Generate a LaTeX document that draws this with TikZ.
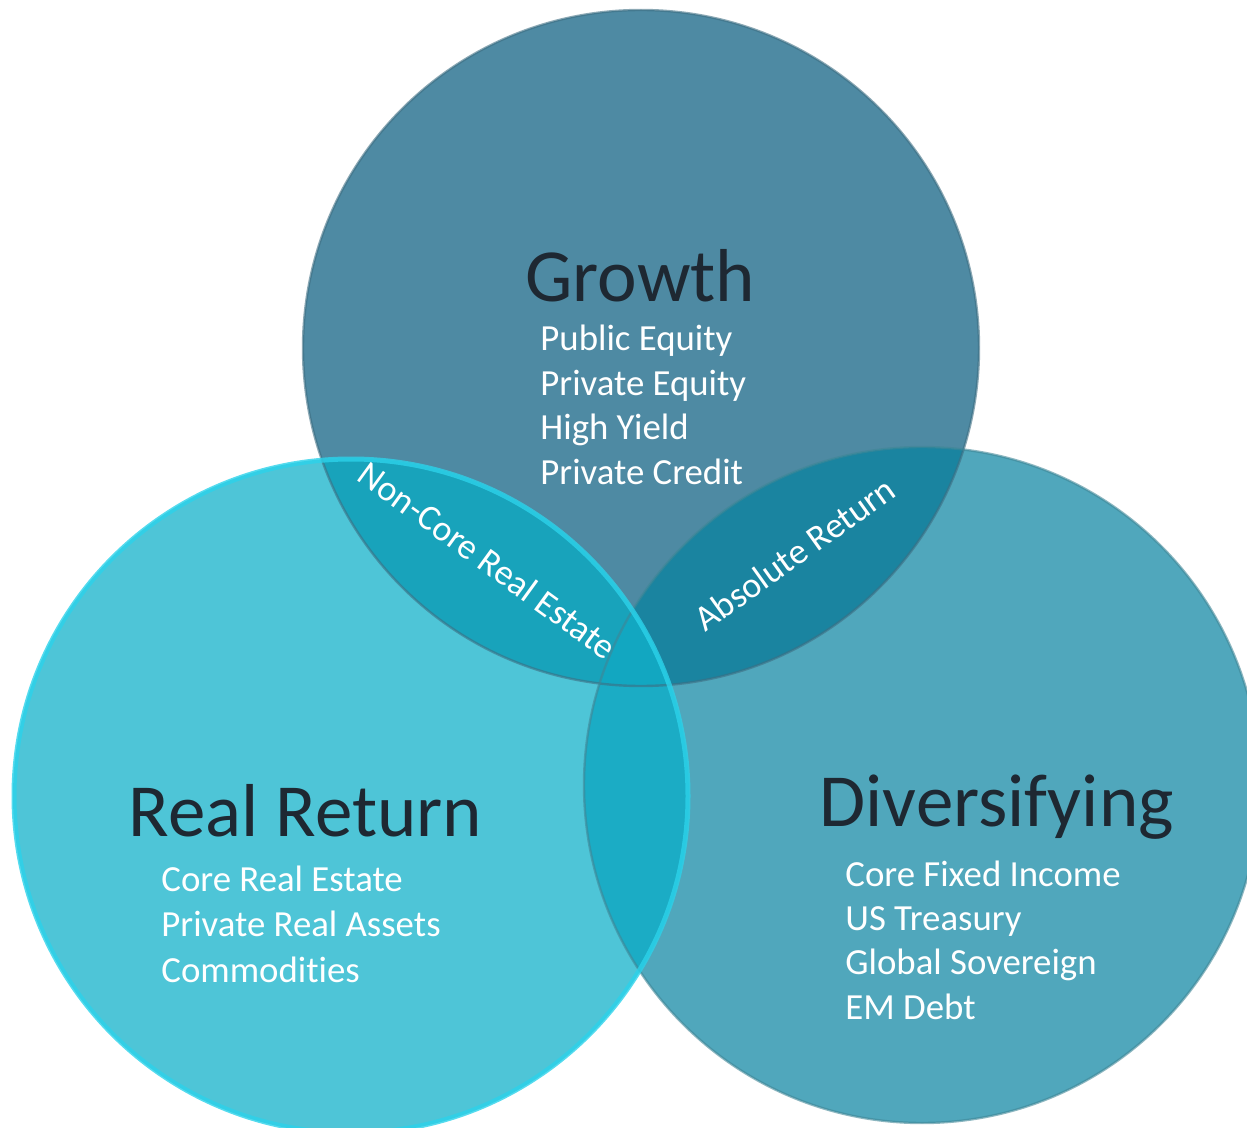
\documentclass[tikz,border=0pt]{standalone}
\usepackage{fontspec}
\setmainfont{Carlito}[Ligatures=NoCommon]

% fills of the three sets and of their overlaps
\definecolor{growthfill}{HTML}{4E8AA3}
\definecolor{realfill}{HTML}{4EC5D7}
\definecolor{divfill}{HTML}{50A7BC}
\definecolor{grfill}{HTML}{18A3BB}
\definecolor{gdfill}{HTML}{1A84A0}
\definecolor{rdfill}{HTML}{1BACC5}
\definecolor{grdfill}{HTML}{12A7C1}
\definecolor{namegray}{HTML}{1E2832}
\definecolor{rimcyan}{HTML}{2CD2EA}

\begin{document}
\begin{tikzpicture}[x=0.5pt,y=-0.5pt,
    bigname/.style={font=\fontsize{37.5}{45}\selectfont,text=namegray,inner sep=0pt,anchor=base},
    asset/.style={font=\fontsize{18.4}{22}\selectfont,text=white,inner sep=0pt,anchor=base west},
    arclabel/.style={font=\fontsize{18}{22}\selectfont,text=white,inner sep=0pt,anchor=base}]
        \useasboundingbox (0,0) rectangle (1247,1128);

        \coordinate (growth) at (641,348);
        \coordinate (real) at (351,796);
        \coordinate (div) at (922,785);

        % the three circles
        \fill[growthfill] (growth) circle[radius=338];
        \fill[realfill] (real) circle[radius=338];
        \fill[divfill] (div) circle[radius=338];

        % overlaps
        \begin{scope}
            \clip (growth) circle[radius=338];
            \fill[grfill] (real) circle[radius=338];
            \fill[gdfill] (div) circle[radius=338];
        \end{scope}
        \begin{scope}
            \clip (real) circle[radius=338];
            \fill[rdfill] (div) circle[radius=338];
            \clip (growth) circle[radius=338];
            \fill[grdfill] (div) circle[radius=338];
        \end{scope}

        % rims
        \draw[growthfill!80!black,line width=1.2,opacity=0.6] (growth) circle[radius=338];
        \draw[divfill!80!black,line width=1.2,opacity=0.6] (div) circle[radius=338];
        \draw[rimcyan,line width=2.5,opacity=0.8] (real) circle[radius=337];

        % set names
        \node[bigname] at (640.5,302) (gname) {Growth};
        \node[bigname] at (305.5,836) (rname) {Real Return};
        \node[bigname] at (996.7,826) (dname) {Diversifying};

        % growth assets
        \node[asset] at (540,350.4) (pubeq) {Public Equity};
        \node[asset] at (540,395) (priveq) {Private Equity};
        \node[asset] at (540,439.7) (hy) {High Yield};
        \node[asset] at (540,484.4) (privcr) {Private Credit};

        % real return assets
        \node[asset] at (161,891.7) (corere) {Core Real Estate};
        \node[asset] at (161,936.7) (realassets) {Private Real Assets};
        \node[asset] at (161,982) (commod) {Commodities};

        % diversifying assets
        \node[asset] at (845,886.7) (corefi) {Core Fixed Income};
        \node[asset] at (845,930.5) (ust) {US Treasury};
        \node[asset] at (845,974.5) (globsov) {Global Sovereign};
        \node[asset] at (845,1019) (emdebt) {EM Debt};

        % overlap labels
        \node[arclabel,rotate=-36] at (480.5,570) (noncore) {Non-Core Real Estate};
        \node[arclabel,rotate=35.6] at (802,564) (absret) {Absolute Return};
    \end{tikzpicture}
\end{document}
